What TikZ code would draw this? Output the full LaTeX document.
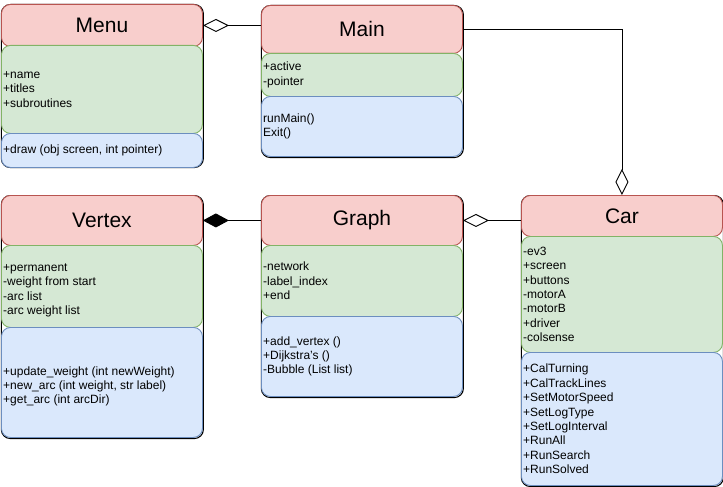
\documentclass[tikz,border=0pt]{standalone}
\usepackage{fontspec}
\setmainfont{Liberation Sans}
\usetikzlibrary{arrows.meta}

\definecolor{headfill}{HTML}{F8CECC}
\definecolor{headline}{HTML}{B85450}
\definecolor{attrfill}{HTML}{D5E8D4}
\definecolor{attrline}{HTML}{82B366}
\definecolor{methfill}{HTML}{DAE8FC}
\definecolor{methline}{HTML}{6C8EBF}

\tikzset{
  part/.style={draw, rounded corners=9pt, inner sep=0pt, anchor=north west,
    line width=0.9pt, minimum width=201pt},
  frame/.style={part, draw=black, fill=white, line width=1.1pt, minimum width=202pt},
  head/.style={part, draw=headline, fill=headfill, font=\fontsize{21}{25}\selectfont},
  attr/.style={part, draw=attrline, fill=attrfill},
  meth/.style={part, draw=methline, fill=methfill},
  txt/.style={anchor=west, align=left, inner sep=0pt, font=\fontsize{12}{14.4}\selectfont},
  conn/.style={draw=black, line width=0.9pt},
  odiam/.tip={Diamond[fill=white, length=26pt, width=13pt]},
  fdiam/.tip={Diamond[length=26pt, width=14pt]},
}

\begin{document}
\begin{tikzpicture}[x=1pt, y=-1pt]
\useasboundingbox (0,0) rectangle (723,487);

% Menu
\node[frame, minimum height=163pt] (menu) at (0.8,4) {};
\node[head, minimum height=42pt] (menuH) at (1,4) {Menu};
\node[attr, minimum height=88pt] (menuA) at (1,45) {};
\node[meth, minimum height=34pt] (menuM) at (1,133) {};
\node[txt] (menuAt) at ([xshift=2pt]menuA.west) {+name\\+titles\\+subroutines};
\node[txt] (menuMt) at ([xshift=2pt]menuM.west) {+draw (obj screen, int pointer)};

% Main
\node[frame, minimum height=152pt] (main) at (260.8,5) {};
\node[head, minimum height=48pt] (mainH) at (261,5) {Main};
\node[attr, minimum height=43pt] (mainA) at (261,53) {};
\node[meth, minimum height=60pt] (mainM) at (261,96) {};
\node[txt] (mainAt) at ([xshift=2pt]mainA.west) {+active\\-pointer};
\node[txt] (mainMt) at ([xshift=2pt]mainM.west) {runMain()\\Exit()};

% Vertex
\node[frame, minimum height=243pt] (vertex) at (0.8,195) {};
\node[head, minimum height=50pt] (vertexH) at (1,195) {Vertex};
\node[attr, minimum height=82pt] (vertexA) at (1,245) {};
\node[meth, minimum height=110pt] (vertexM) at (1,327) {};
\node[txt] (vertexAt) at ([xshift=2pt, yshift=-4pt]vertexA.west)
  {+permanent\\-weight from start\\-arc list\\-arc weight list};
\node[txt] (vertexMt) at ([xshift=2pt, yshift=-4pt]vertexM.west)
  {+update\_weight (int newWeight)\\+new\_arc (int weight, str label)\\+get\_arc (int arcDir)};

% Graph
\node[frame, minimum height=202pt] (graph) at (260.8,195) {};
\node[head, minimum height=50pt] (graphH) at (261,195) {Graph};
\node[attr, minimum height=71pt] (graphA) at (261,245) {};
\node[meth, minimum height=80pt] (graphM) at (261,316) {};
\node[txt] (graphAt) at ([xshift=2pt]graphA.west) {-network\\-label\_index\\+end};
\node[txt] (graphMt) at ([xshift=2pt]graphM.west) {+add\_vertex ()\\+Dijkstra's ()\\-Bubble (List list)};

% Car
\node[frame, minimum height=291pt] (car) at (520.8,195) {};
\node[head, minimum height=41pt] (carH) at (521,195) {Car};
\node[attr, minimum height=116pt] (carA) at (521,236) {};
\node[meth, minimum height=133pt] (carM) at (521,352) {};
\node[txt] (carAt) at ([xshift=2pt]carA.west)
  {-ev3\\+screen\\+buttons\\-motorA\\-motorB\\+driver\\-colsense};
\node[txt] (carMt) at ([xshift=2pt]carM.west)
  {+CalTurning\\+CalTrackLines\\+SetMotorSpeed\\+SetLogType\\+SetLogInterval\\+RunAll\\+RunSearch\\+RunSolved};

% Associations
\draw[conn, odiam-] (menuH.east) -- (menuH.east -| mainH.west);
\draw[conn, -odiam] (mainH.east) -| (carH.north);
\draw[conn, fdiam-] (vertexH.east) -- (graphH.west);
\draw[conn, odiam-] (graphH.east) -- (graphH.east -| carH.west);
\end{tikzpicture}
\end{document}
